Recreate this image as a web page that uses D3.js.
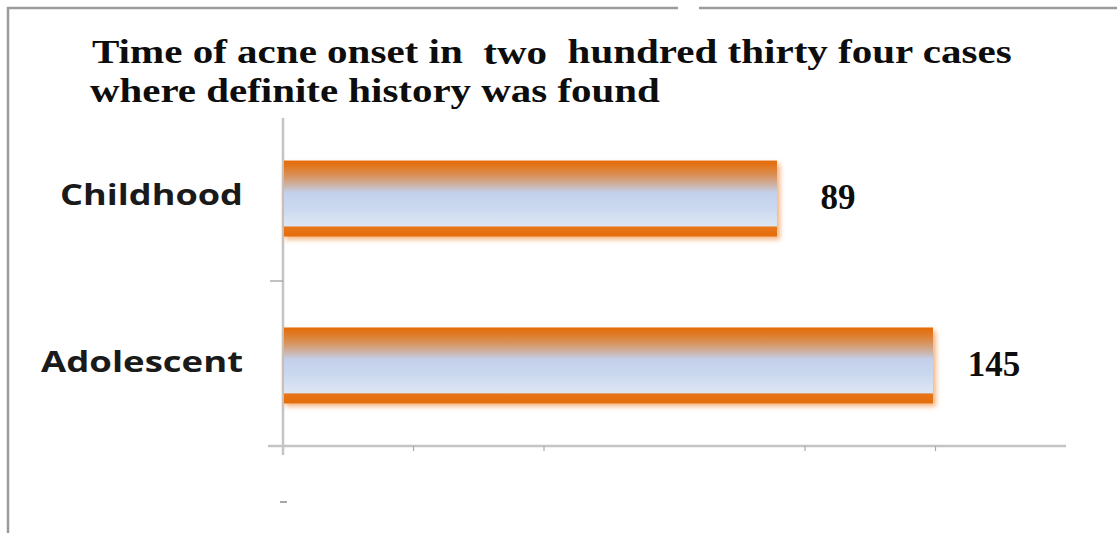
<!DOCTYPE html>
<html>
<head>
<meta charset="utf-8">
<script src="https://cdn.jsdelivr.net/npm/d3@7"></script>
<style>
  html, body { margin: 0; padding: 0; background: #fff; }
  svg { display: block; }
</style>
</head>
<body>
<svg id="chart" width="1117" height="533"></svg>
<script>
// ---- data ----
const titleLine1 = ["Time of acne onset in ", " two ", " hundred thirty four cases"];
const titleLine2 = "where definite history was found";
const categories = ["Childhood", "Adolescent"];
const values = [89, 145];
const valueLabels = ["89", "145"];
const gridTicks = [1, 2, 4, 5];

// ---- layout ----
const W = 1117, H = 533;
const svg = d3.select("#chart");

const plot = { left: 283, right: 1066, top: 118, bottom: 446 };

const y = d3.scaleBand()
  .domain(categories)
  .range([plot.top, plot.bottom])
  .paddingInner(0.545)
  .paddingOuter(0.255);

const x = d3.scaleLinear()
  .domain([-88.3, 145])
  .range([plot.left, 933]);

const tickScale = d3.scaleLinear().domain([0, 6]).range([plot.left, plot.right]);

// ---- defs ----
const defs = svg.append("defs");
const grad = defs.append("linearGradient")
  .attr("id", "barGrad").attr("x1", 0).attr("y1", 0).attr("x2", 0).attr("y2", 1);
[
  [0.00, "#E46C0A"],
  [0.06, "#E2741A"],
  [0.20, "#D8925A"],
  [0.32, "#CDB2A6"],
  [0.42, "#C4D0EA"],
  [0.62, "#CAD8EF"],
  [0.86, "#DDE6F4"],
  [0.875, "#E7761A"],
  [1.00, "#E46C0A"]
].forEach(([o, c]) => grad.append("stop").attr("offset", o).attr("stop-color", c));

const blur = defs.append("filter").attr("id", "glow")
  .attr("x", "-5%").attr("y", "-30%").attr("width", "110%").attr("height", "160%");
blur.append("feGaussianBlur").attr("stdDeviation", 2.4);

// ---- frame ----
const frame = svg.append("g").attr("stroke", "#9c9c9c").attr("stroke-width", 2.5).attr("fill", "none");
frame.append("line").attr("x1", 7).attr("y1", 8).attr("x2", 678).attr("y2", 8);
frame.append("line").attr("x1", 699).attr("y1", 8).attr("x2", W).attr("y2", 8);
frame.append("line").attr("x1", 8).attr("y1", 7).attr("x2", 8).attr("y2", H);

// ---- helper: horizontally fit text to a width, around an anchor x ----
function fitText(sel, targetWidth, ax) {
  const bb = sel.node().getBBox();
  const sx = targetWidth / bb.width;
  const a = (ax === undefined) ? bb.x : ax;
  sel.attr("transform", `translate(${a},0) scale(${sx},1) translate(${-a},0)`);
}

// ---- title ----
const serif = "'Liberation Serif', 'Times New Roman', serif";
const t1 = svg.append("text")
  .attr("x", 92).attr("y", 63)
  .attr("font-family", serif)
  .attr("font-weight", "bold").attr("font-size", 34).attr("fill", "#0d0d0d")
  .attr("xml:space", "preserve").style("white-space", "pre");
t1.append("tspan").text(titleLine1[0]);
t1.append("tspan").attr("dy", 1).text(titleLine1[1]);
t1.append("tspan").attr("dy", -1).text(titleLine1[2]);
fitText(t1, 920, 92);

const t2 = svg.append("text")
  .attr("x", 90).attr("y", 102)
  .attr("font-family", serif)
  .attr("font-weight", "bold").attr("font-size", 34).attr("fill", "#0d0d0d")
  .text(titleLine2);
fitText(t2, 570, 90);

// ---- axes ----
const axisG = svg.append("g");
axisG.append("line")
  .attr("x1", 268).attr("x2", plot.right)
  .attr("y1", plot.bottom).attr("y2", plot.bottom)
  .attr("stroke", "#c4c4c4").attr("stroke-width", 2.5);
axisG.selectAll("line.vtick").data(gridTicks).join("line")
  .attr("class", "vtick")
  .attr("x1", d => tickScale(d)).attr("x2", d => tickScale(d))
  .attr("y1", plot.bottom).attr("y2", plot.bottom + 5)
  .attr("stroke", "#a8a8a8").attr("stroke-width", 1.2);
axisG.append("line")
  .attr("x1", plot.left).attr("x2", plot.left)
  .attr("y1", plot.top).attr("y2", plot.bottom + 9)
  .attr("stroke", "#c4c4c4").attr("stroke-width", 2.5);
axisG.append("line")
  .attr("x1", 270).attr("x2", plot.left)
  .attr("y1", (plot.top + plot.bottom) / 2 - 1).attr("y2", (plot.top + plot.bottom) / 2 - 1)
  .attr("stroke", "#9a9a9a").attr("stroke-width", 1.2);

svg.append("line").attr("x1", 280).attr("x2", 287).attr("y1", 502).attr("y2", 502)
  .attr("stroke", "#8a8a8a").attr("stroke-width", 1.5);

// ---- bars ----
const rows = categories.map((c, i) => ({ cat: c, v: values[i], label: valueLabels[i] }));
const x0 = x(x.domain()[0]);

svg.append("g").selectAll("rect.glow").data(rows).join("rect")
  .attr("class", "glow")
  .attr("x", x0 + 2)
  .attr("y", d => y(d.cat) + 3)
  .attr("width", d => x(d.v) - x0 + 1)
  .attr("height", y.bandwidth())
  .attr("fill", "#F2A25E").attr("opacity", 0.8)
  .attr("filter", "url(#glow)");

svg.append("g").selectAll("rect.bar").data(rows).join("rect")
  .attr("class", "bar")
  .attr("x", x0 + 1)
  .attr("y", d => y(d.cat))
  .attr("width", d => x(d.v) - x0 - 1)
  .attr("height", y.bandwidth())
  .attr("fill", "url(#barGrad)");

// ---- category labels ----
const catTargets = { "Childhood": 183, "Adolescent": 202 };
const labelRight = 243;
svg.append("g").selectAll("text").data(rows).join("text")
  .attr("x", labelRight)
  .attr("y", d => y(d.cat) + y.bandwidth() / 2 - 4)
  .attr("dy", "0.36em")
  .attr("text-anchor", "end")
  .attr("font-family", "'Open Sans', 'DejaVu Sans', sans-serif")
  .attr("font-weight", "bold").attr("font-size", 29).attr("fill", "#1a1a1a")
  .text(d => d.cat)
  .each(function(d) { fitText(d3.select(this), catTargets[d.cat], labelRight); });

// ---- value labels ----
svg.append("g").selectAll("text").data(rows).join("text")
  .attr("x", d => x(d.v) + 61)
  .attr("y", d => y(d.cat) + y.bandwidth() / 2 - 2)
  .attr("dy", "0.36em")
  .attr("text-anchor", "middle")
  .attr("font-family", serif)
  .attr("font-weight", "bold").attr("font-size", 35).attr("fill", "#0d0d0d")
  .text(d => d.label);
</script>
</body>
</html>
